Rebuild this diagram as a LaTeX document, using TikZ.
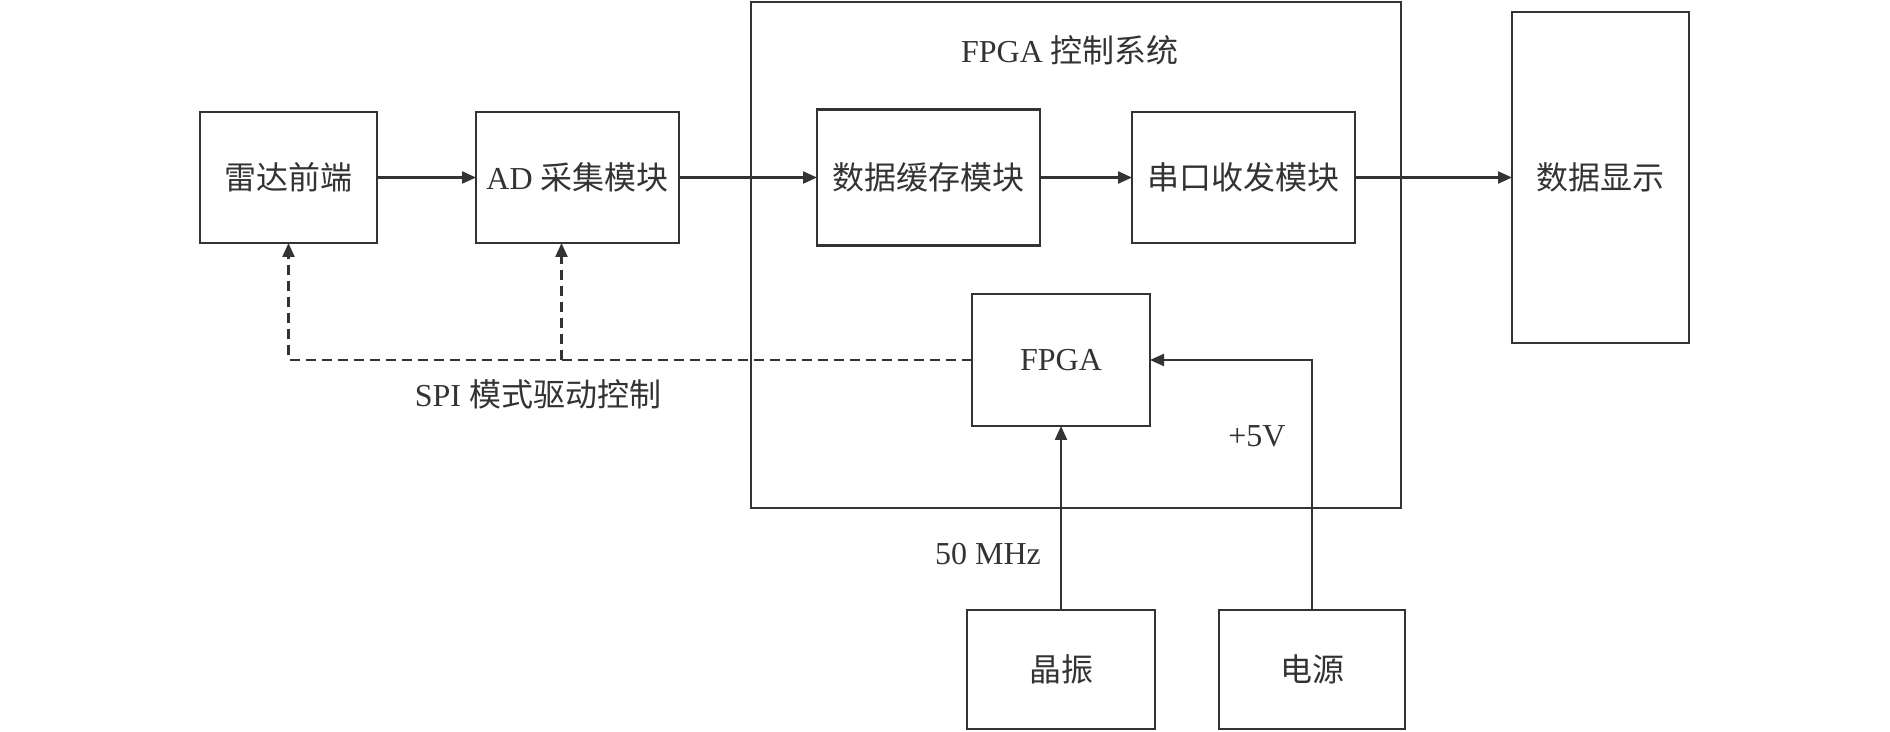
\documentclass[tikz,border=0pt]{standalone}
\usepackage{fontspec}
\usepackage{tikz}
\usetikzlibrary{positioning,calc,arrows.meta}
\setmainfont{Liberation Serif}
\newfontfamily\cjk{Noto Sans CJK SC}
\definecolor{myline}{RGB}{51, 51, 51}
\newcommand*\boxheight{65.5pt}
\newcommand*\boxwidth{111.5pt}
\tikzstyle{block}=[draw=myline,line width=1.3pt,minimum height=\boxheight,inner sep=0pt,outer sep=0pt]
\tikzstyle{arr}=[-{Triangle[length=7pt,width=6pt]},line width=1.1pt,draw=myline]
\tikzstyle{ctrl}=[arr,dash pattern=on 5pt off 3pt]

\begin{document}
\begin{tikzpicture}[x=0.5pt,y=-0.5pt,font=\fontsize{16pt}{19pt}\selectfont,text=myline]
      \useasboundingbox (0,0) rectangle (1890,732);
      \node (sys) [block, minimum width=325pt, minimum height=253pt] at (1076,255) {};
      \node (title) at (1070,50) {FPGA {\cjk 控制系统}};
      \node (radar) [block, minimum width=88.5pt] at (288.5,177.5) {{\cjk 雷达前端}};
      \node (ad) [block, right=49.5pt of radar, minimum width=101.5pt] {AD {\cjk 采集模块}};
      \node (buf) [block, right=69pt of ad, minimum width=\boxwidth, minimum height=68pt] {{\cjk 数据缓存模块}};
      \node (uart) [block, right=46pt of buf, minimum width=\boxwidth] {{\cjk 串口收发模块}};
      \node (disp) [block, right=78.5pt of uart, minimum width=88.5pt, minimum height=165.5pt] {{\cjk 数据显示}};
      \node (fpga) [block, minimum width=89pt, minimum height=66pt] at (1061,360) {FPGA};
      \node (xtal) [block, minimum width=94pt, minimum height=59.5pt] at (1061,669.5) {{\cjk 晶振}};
      \node (power) [block, minimum width=93pt, minimum height=59.5pt] at (1312,669.5) {{\cjk 电源}};
      \node (spi) at (538,394) {SPI {\cjk 模式驱动控制}};
      \node (mhz) at (988,554) {50 MHz};
      \node (volt) at (1257,436) {+5V};
      % data path
      \draw[arr] (radar.east) -- (ad.west);
      \draw[arr] (ad.east) -- (buf.west);
      \draw[arr] (buf.east) -- (uart.west);
      \draw[arr] (uart.east) -- (disp.west);
      % clock and supply
      \draw[arr] (xtal.north) -- (fpga.south);
      \draw[arr] (power.north) |- (fpga.east);
      % SPI control
      \coordinate (adin) at ([xshift=-8pt]ad.south);
      \draw[ctrl] (fpga.west) -| (radar.south);
      \draw[ctrl] (adin |- fpga.west) -- (adin);
    \end{tikzpicture}
\end{document}
